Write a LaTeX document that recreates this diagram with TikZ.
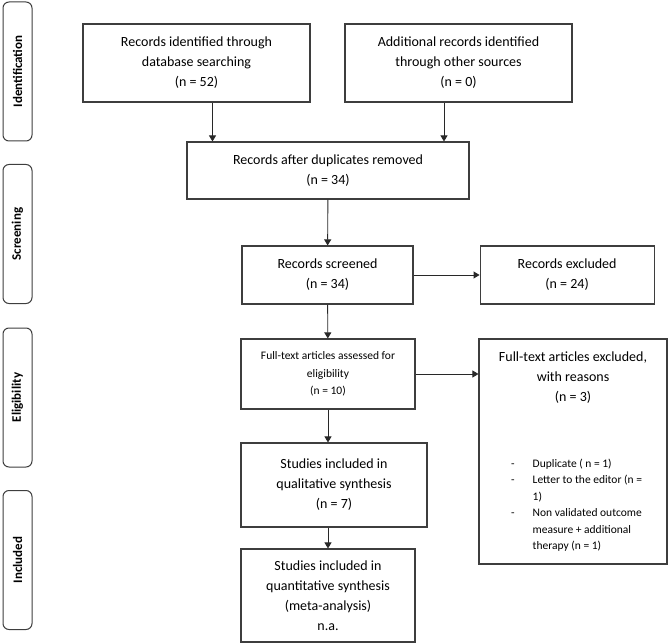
\documentclass[tikz,border=0pt]{standalone}
\usepackage{fontspec}
\setmainfont{Carlito}
\usetikzlibrary{arrows.meta,positioning}
\definecolor{lineGray}{RGB}{62,62,62}
\definecolor{arrowGray}{RGB}{40,40,40}

\begin{document}
\begin{tikzpicture}[x=1pt,y=-1pt,
    box/.style={draw=lineGray,line width=1.1pt,align=center,inner sep=0pt,font=\fontsize{14}{20}\selectfont},
    phase/.style={draw=lineGray,line width=1pt,rounded corners=6pt,rotate=90,minimum width=139pt,minimum height=29pt,inner sep=0pt,font=\bfseries\fontsize{13}{15}\selectfont},
    arrow/.style={-{Triangle[length=6pt,width=7pt]},line width=0.9pt,draw=arrowGray}
  ]
    \useasboundingbox (0,0) rectangle (669,644);

    % phases on the left
    \node[phase] (ident) at (17.5,71.5) {Identification};
    \node[phase] (screen) at (17.5,234) {Screening};
    \node[phase] (elig) at (17.5,397.5) {Eligibility};
    \node[phase] (incl) at (17.5,560) {Included};

    % main flow
    \node[box,minimum width=227pt,minimum height=78pt] (db) at (196.5,63) {Records identified through\\database searching\\(n = 52)};
    \node[box,minimum width=227pt,minimum height=78pt] (other) at (458.5,63) {Additional records identified\\through other sources\\(n = 0)};
    \node[box,minimum width=282pt,minimum height=57pt] (dup) at (328,170.5) {Records after duplicates removed\\(n = 34)};
    \node[box,minimum width=171pt,minimum height=58pt] (scr) at (327.5,275) {Records screened\\(n = 34)};
    \node[box,minimum width=174pt,minimum height=58pt,right=66pt of scr] (excl) {Records excluded\\(n = 24)};
    \node[box,minimum width=174pt,minimum height=70pt,font=\fontsize{11.5}{17.5}\selectfont] (full) at (328,374) {Full-text articles assessed for\\eligibility\\(n = 10)};
    \node[box,minimum width=188pt,minimum height=225pt] (fullex) at (573,451.5) {};
    \node[align=center,inner sep=0pt,font=\fontsize{14}{20}\selectfont] (fullexT) at (573,378) {Full-text articles excluded,\\with reasons\\(n = 3)};
    \node[anchor=west,inner sep=0pt,font=\fontsize{11.5}{16.5}\selectfont] (reasons) at (511,505) {%
      \begin{tabular}{@{}l@{\hspace{18pt}}l@{}}
        - & Duplicate ( n = 1)\\
        - & Letter to the editor (n =\\
          & 1)\\
        - & Non validated outcome\\
          & measure + additional\\
          & therapy (n = 1)
      \end{tabular}};
    \node[box,minimum width=186pt,minimum height=84pt] (qual) at (334,485) {Studies included in\\qualitative synthesis\\(n = 7)};
    \node[box,minimum width=174pt,minimum height=93pt] (quant) at (328,595.5) {Studies included in\\quantitative synthesis\\(meta-analysis)\\n.a.};

    \draw[arrow] ([xshift=16pt]db.south) -- ([xshift=16pt]db.south |- dup.north);
    \draw[arrow] ([xshift=-14.5pt]other.south) -- ([xshift=-14.5pt]other.south |- dup.north);
    \draw[arrow] (dup) -- (scr);
    \draw[arrow] (scr) -- (excl);
    \draw[arrow] (scr) -- (full);
    \draw[arrow] (full.east) -- (full.east -| fullex.west);
    \draw[arrow] (full.south) -- (full.south |- qual.north);
    \draw[arrow] (quant.north |- qual.south) -- (quant.north);
  \end{tikzpicture}
\end{document}
